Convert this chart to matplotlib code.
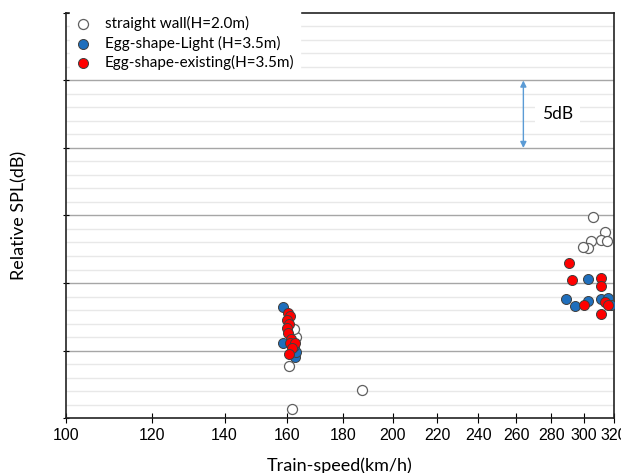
import matplotlib
matplotlib.use('Agg')
import matplotlib.pyplot as plt
from matplotlib.ticker import FixedLocator, NullFormatter, NullLocator

# straight wall (H=2.0m)
wall_x = [306, 314, 311, 315, 305, 303, 299.5, 187.6, 161.7, 160.7, 162.9, 162.1]
wall_y = [14.9, 13.8, 13.2, 13.1, 13.1, 12.6, 12.7, 2.1, 0.64, 3.85, 6.0, 6.6]

# Egg-shape-Light (H=3.5m)
light_x = [303, 289, 294.6, 303, 311, 316, 318, 158.6, 158.4, 162.6, 162.9, 162.1]
light_y = [10.3, 8.8, 8.3, 8.7, 8.8, 8.9, 8.4, 8.2, 5.58, 4.54, 4.91, 5.33]

# Egg-shape-existing (H=3.5m)
exist_x = [291, 292.5, 311, 311, 300.5, 314, 316, 311,
           160.3, 160.9, 159.8, 160.7, 159.8, 160.3, 161.2, 160.9, 162.6, 161.5, 160.7]
exist_y = [11.5, 10.2, 10.4, 9.8, 8.4, 8.6, 8.4, 7.7,
           7.76, 7.56, 7.26, 6.96, 6.64, 6.27, 5.83, 5.53, 5.53, 5.16, 4.74]

xticks = [100, 120, 140, 160, 180, 200, 220, 240, 260, 280, 300, 320]

label_font = 'Lato'
tick_font = 'Liberation Sans'

fig = plt.figure(figsize=(6.21, 4.73), dpi=100)
ax = fig.add_axes([66 / 621, 1 - 418 / 473, 548 / 621, 405 / 473])

ax.set_xscale('log')
ax.set_xlim(100, 320)
ax.set_ylim(0, 30)

# gridlines: minor every 1 dB, major every 5 dB
for v in range(1, 30):
    if v % 5 == 0:
        ax.axhline(v, color='#a6a6a6', lw=1.0, zorder=0)
    else:
        ax.axhline(v, color='#e8e8e8', lw=1.0, zorder=0)

ax.scatter(wall_x, wall_y, s=52, facecolor='white', edgecolor='#606060', lw=0.9, zorder=3,
           label='straight wall(H=2.0m)')
ax.scatter(light_x, light_y, s=52, facecolor='#1f6fbd', edgecolor='#404040', lw=0.7, zorder=4,
           label='Egg-shape-Light (H=3.5m)')
ax.scatter(exist_x, exist_y, s=52, facecolor='#ff0000', edgecolor='#404040', lw=0.7, zorder=5,
           label='Egg-shape-existing(H=3.5m)')

ax.xaxis.set_major_locator(FixedLocator(xticks))
ax.xaxis.set_minor_locator(NullLocator())
ax.set_xticklabels([str(t) for t in xticks], fontsize=11.5, family=tick_font)
ax.tick_params(axis='x', direction='inout', length=7, width=0.8, pad=4)
ax.yaxis.set_major_locator(FixedLocator([0, 5, 10, 15, 20, 25, 30]))
ax.yaxis.set_major_formatter(NullFormatter())
ax.yaxis.set_minor_locator(NullLocator())
ax.tick_params(axis='y', direction='inout', length=5, width=0.8)

for sp in ax.spines.values():
    sp.set_linewidth(1.2)
    sp.set_color('#222222')

# 5dB scale arrow
ax.annotate('', xy=(264, 25), xytext=(264, 20),
            arrowprops=dict(arrowstyle='<|-|>', color='#5b9bd5', lw=1.0,
                            mutation_scale=9, shrinkA=0, shrinkB=0), zorder=6)
ax.text(284, 22.5, '5dB', fontsize=12.5, family=label_font, ha='center', va='center',
        bbox=dict(facecolor='white', edgecolor='none', pad=5), zorder=6)

ax.set_xlabel('Train-speed(km/h)', fontsize=13, family=label_font, labelpad=10)
ax.set_ylabel('Relative SPL(dB)', fontsize=13, family=label_font, labelpad=22)

leg = ax.legend(loc='upper left', bbox_to_anchor=(0.008, 1.005), frameon=True,
                fancybox=False, framealpha=1, edgecolor='white', facecolor='white',
                prop={'family': label_font, 'size': 11}, handletextpad=0.9,
                labelspacing=0.28, borderpad=0.35, borderaxespad=0, handlelength=1.0)
leg.set_zorder(10)

fig.savefig('out.png', dpi=100)
